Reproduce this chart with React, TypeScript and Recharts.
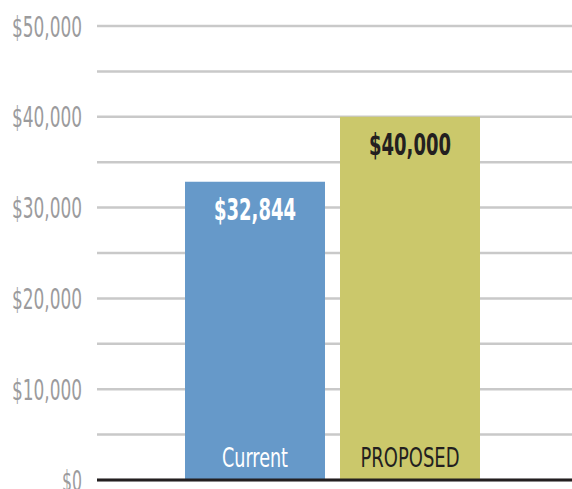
import { BarChart, Bar, XAxis, YAxis, CartesianGrid, LabelList, Cell } from 'recharts';

const categories = ['Current', 'PROPOSED'];
const amounts = [32844, 40000];
const barColors = ['#6699c9', '#cbc86b'];
const labelColors = ['#ffffff', '#231f20'];
const yTicks = [0, 5000, 10000, 15000, 20000, 25000, 30000, 35000, 40000, 45000, 50000];

const data = categories.map((c, i) => ({ name: c, value: amounts[i] }));

const FONT = '"DejaVu Sans Condensed", "Liberation Sans Narrow", Arial, sans-serif';

const fmt = (v: number) => '$' + v.toLocaleString('en-US');

// the original uses a narrow condensed face, so squeeze each text to its width
const YTick = ({ x, y, payload }: any) => {
  if (payload.value % 10000 !== 0) return null;
  const s = fmt(payload.value);
  return (
    <text
      x={x}
      y={y + 10.5}
      textAnchor="end"
      fontFamily={FONT}
      fontSize={29}
      fill="#9b9b9d"
      textLength={s.length * 10}
      lengthAdjust="spacingAndGlyphs"
    >
      {s}
    </text>
  );
};

const ValueLabel = ({ x, y, width, value, index }: any) => (
  <text
    x={x + width / 2}
    y={y + 38}
    textAnchor="middle"
    fontFamily={FONT}
    fontWeight="bold"
    fontSize={30}
    fill={labelColors[index]}
    textLength={82}
    lengthAdjust="spacingAndGlyphs"
  >
    {fmt(value)}
  </text>
);

const NameLabel = ({ x, y, width, height, value, index }: any) => (
  <text
    x={x + width / 2}
    y={y + height - 13}
    textAnchor="middle"
    fontFamily={FONT}
    fontSize={27}
    fill={labelColors[index]}
    textLength={index === 0 ? 66 : 99}
    lengthAdjust="spacingAndGlyphs"
  >
    {value}
  </text>
);

export default function App() {
  return (
    <div style={{ position: 'absolute', left: 0, top: 0, background: '#fff' }}>
      <BarChart
        width={572}
        height={489}
        data={data}
        margin={{ top: 26, right: 0, bottom: 0, left: 0 }}
      >
        <CartesianGrid vertical={false} stroke="#c9c9c9" strokeWidth={2.5} />
        <YAxis
          width={97}
          domain={[0, 50000]}
          ticks={yTicks}
          interval={0}
          axisLine={false}
          tickLine={false}
          tickSize={0}
          tickMargin={15}
          tick={<YTick />}
        />
        <XAxis
          dataKey="name"
          height={9}
          tick={false}
          tickLine={false}
          axisLine={{ stroke: '#231f20', strokeWidth: 3 }}
          padding={{ left: 80, right: 85 }}
        />
        <Bar dataKey="value" barSize={140} isAnimationActive={false}>
          {data.map((d, i) => (
            <Cell key={d.name} fill={barColors[i]} />
          ))}
          <LabelList dataKey="value" content={<ValueLabel />} />
          <LabelList dataKey="name" content={<NameLabel />} />
        </Bar>
      </BarChart>
    </div>
  );
}
